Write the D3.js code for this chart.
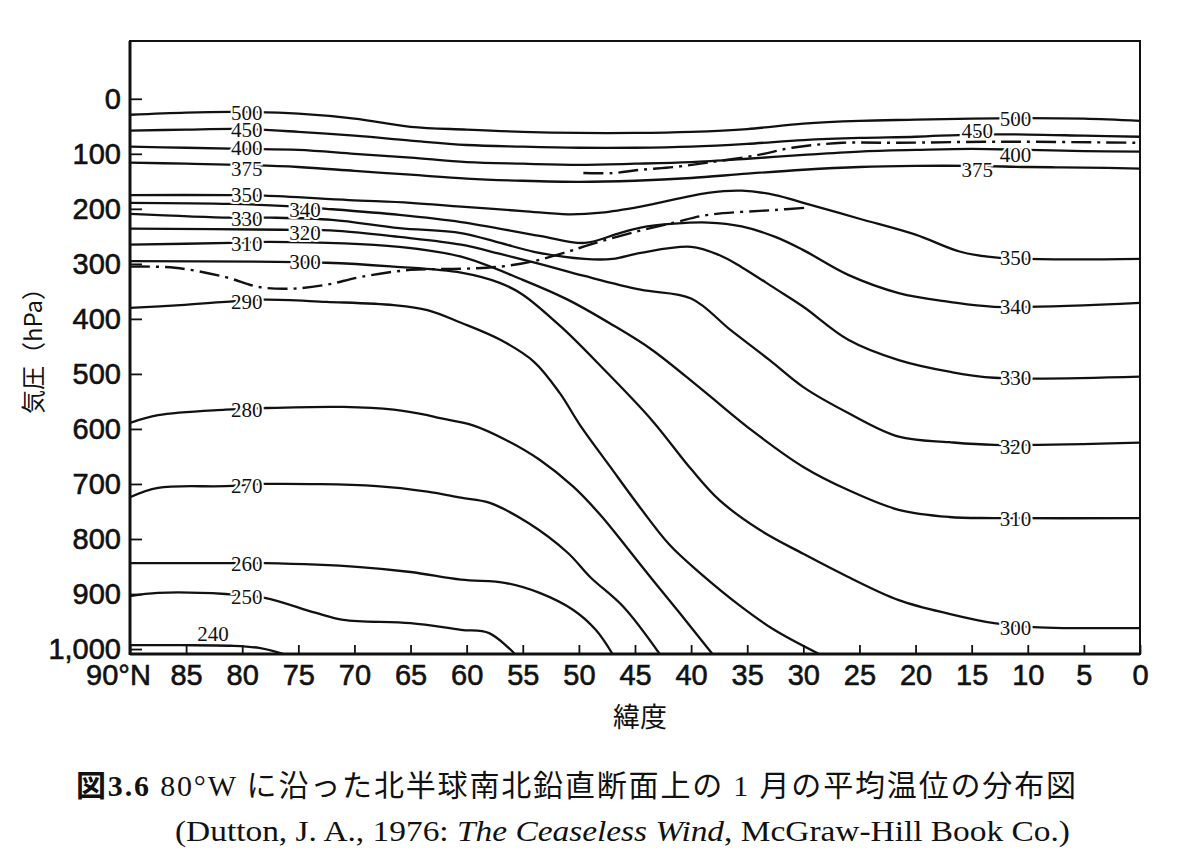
<!DOCTYPE html>
<html>
<head>
<meta charset="utf-8">
<script src="https://cdn.jsdelivr.net/npm/d3@7"></script>
<style>
body { margin: 0; background: #fff; }
</style>
</head>
<body>
<svg id="chart" width="1184" height="857"></svg>
<script>
// isentropes: [latitude, pressure hPa]
var th500 = [[90,29],[85,25],[80,24],[75,27],[70,36],[65,51],[60,56],[55,60],[50,62],[45,62],[40,60],[35,55],[30,45],[25,40],[20,38],[15,36],[10,35],[5,36],[0,40]];
var th450 = [[90,58],[85,56],[80,55],[75,60],[70,67],[65,76],[60,84],[55,87],[50,89],[45,89],[40,87],[35,82],[30,75],[25,71],[20,69],[15,65],[10,65],[5,67],[0,69]];
var th400 = [[90,87],[85,89],[80,91],[75,93],[70,100],[65,107],[60,115],[55,118],[50,120],[45,118],[40,115],[35,109],[30,102],[25,96],[20,93],[15,91],[10,93],[5,95],[0,96]];
var th375 = [[90,116],[85,118],[80,120],[75,124],[70,131],[65,138],[60,145],[55,149],[50,151],[45,149],[40,144],[35,136],[30,129],[25,124],[20,122],[15,122],[10,124],[5,125],[0,127]];
var th350 = [[90,175],[81,175],[78,176],[70.5,184],[65,189],[60.5,196],[55,204],[51,210],[48,207],[44.5,196],[38.5,171],[35.5,167],[32.5,175],[30,189],[25,218],[20,247],[16,278],[12.5,289],[0,291]];
var th340 = [[90,189],[81,191],[76,195],[72.5,200],[66,211],[60.5,224],[53.5,249],[49.5,262],[46.5,245],[44.5,234],[41.5,227],[38.5,225],[35.5,232],[32.5,251],[30,275],[26,320],[21.5,353],[17,369],[13,378],[0,371]];
var th330 = [[90,209],[81,216],[77.5,216],[72,220],[66,235],[60.5,244],[57,262],[54,278],[49.5,291],[47,291],[44.5,280],[40,269],[37.5,284],[35.5,306],[32.5,345],[30,378],[26,438],[21.5,475],[17,496],[13,507],[0,505]];
var th320 = [[90,236],[76.5,238],[71.5,240],[66,251],[60.5,265],[57,282],[53.5,300],[49.5,322],[44.5,347],[40,363],[36.5,420],[33,475],[30,524],[26,571],[21.5,614],[17,624],[13,629],[0,625]];
var th310 = [[90,265],[81,262],[77.5,260],[66,269],[60.5,287],[55,329],[51,365],[47,411],[43.5,456],[39,529],[34.5,604],[30,669],[26,711],[21.5,747],[17,760],[13,762],[0,762]];
var th300 = [[90,295],[72.5,298],[66.5,305],[60.5,316],[57,335],[55,356],[51.5,416],[48,487],[43.5,584],[40,673],[37.5,729],[34,782],[30,827],[26,869],[21.5,911],[17,936],[13,953],[9.5,960],[0,962]];
var th290 = [[90,380],[85.5,375],[81.5,369],[78,365],[72.5,369],[66.5,375],[63.5,384],[60.5,407],[57,438],[54,478],[51.7,535],[49.9,593],[47.2,669],[44.5,744],[41.9,811],[39.2,862],[35.6,922],[32.6,965],[28.6,1009]];
var th280 = [[90,589],[87.5,575],[81.5,565],[78,562],[71,560],[66.5,565],[63.5,575],[62.5,580],[59.5,593],[56.5,620],[53.5,656],[50.5,705],[48.1,756],[45.9,811],[43.4,875],[41,935],[38.1,1009]];
var th270 = [[90,724],[87.5,707],[81.5,704],[78,700],[68,704],[63.5,714],[60.5,725],[58,734],[54.5,771],[51,825],[49,869],[46,924],[42.8,1009]];
var th260 = [[90,844],[81.5,844],[78,844],[69.5,851],[65,860],[60.5,874],[56.5,880],[53.5,898],[50.5,929],[48.5,965],[47,1009]];
var th250 = [[90,904],[87.5,898],[81.5,900],[78,907],[73.5,934],[71,947],[65,953],[60.5,965],[58,971],[55.7,1009]];
var th240 = [[90,993],[85.5,993],[81,994],[78.5,998],[76.3,1009]];

// tropopause (dash-dot)
var tropLow = [[90,305],[86,307],[81.5,324],[78.5,342],[75.5,345],[72.5,338],[69.5,324],[65,311],[60.5,309],[57,305],[54,295],[51,278],[49,265],[45,242],[41.5,225],[38.5,211],[32.5,202],[29.7,198]];
var tropHigh = [[49.6,135],[47,135],[44.5,129],[41.5,124],[38.5,116],[34,102],[31,89],[26.5,80],[21.5,80],[12.5,78],[0,80]];

// contour labels: [text, lat, hPa]
var contourLabels = [
  ["500",79.6,24],["450",79.6,55],["400",79.6,89],["375",79.6,127],["350",79.6,173],
  ["330",79.6,218],["310",79.6,262],["290",79.6,369],["280",79.6,565],["270",79.6,702],
  ["260",79.6,844],["250",79.6,904],["240",82.6,971],
  ["340",74.4,202],["320",74.4,242],["300",74.4,296],
  ["500",11.1,35],["450",14.5,58],["400",11.1,102],["375",14.5,129],["350",11.1,289],
  ["340",11.1,378],["330",11.1,507],["320",11.1,631],["310",11.1,762],["300",11.1,960]
];

var latTicks = [90,85,80,75,70,65,60,55,50,45,40,35,30,25,20,15,10,5,0];
var latTickLabels = ["90°N","85","80","75","70","65","60","55","50","45","40","35","30","25","20","15","10","5","0"];
var presTicks = [0,100,200,300,400,500,600,700,800,900,1000];
var presTickLabels = ["0","100","200","300","400","500","600","700","800","900","1,000"];

var solidLines = [th500,th450,th400,th375,th350,th340,th330,th320,th310,th300,th290,th280,th270,th260,th250,th240];
var dashLines = [tropLow, tropHigh];

var svg = d3.select("#chart");
svg.append("rect").attr("width",1184).attr("height",857).attr("fill","#fff");

var plotL = 130, plotR = 1140, plotT = 41, plotB = 654;

var x = d3.scaleLinear().domain([90,0]).range([plotL,plotR]);
var y = d3.scaleLinear().domain([-105,1009]).range([plotT,plotB]);

svg.append("clipPath").attr("id","plotClip")
	.append("rect").attr("x",plotL).attr("y",plotT).attr("width",plotR-plotL).attr("height",plotB-plotT);

var line = d3.line()
	.x(function(d) { return x(d[0]); })
	.y(function(d) { return y(d[1]); })
	.curve(d3.curveCatmullRom.alpha(0.5));

var lineLayer = svg.append("g").attr("clip-path","url(#plotClip)");

lineLayer.selectAll(".iso")
	.data(solidLines)
	.enter().append("path")
	.attr("class","iso")
	.attr("d", line)
	.attr("fill","none")
	.attr("stroke","#111")
	.attr("stroke-width",2.3);

lineLayer.selectAll(".trop")
	.data(dashLines)
	.enter().append("path")
	.attr("class","trop")
	.attr("d", line)
	.attr("fill","none")
	.attr("stroke","#111")
	.attr("stroke-width",2.4)
	.attr("stroke-dasharray","20,6,3,6");

// labels knock out the lines behind them
svg.append("g").selectAll("text")
	.data(contourLabels)
	.enter().append("text")
	.attr("x", function(d) { return x(d[1]); })
	.attr("y", function(d) { return y(d[2]); })
	.attr("text-anchor","middle")
	.attr("dy","0.36em")
	.attr("font-family","'Liberation Serif', serif")
	.attr("font-size",21)
	.attr("fill","#111")
	.attr("stroke", function(d) { return d[0] == "240" ? "none" : "#fff"; })
	.attr("stroke-width",4)
	.attr("paint-order","stroke")
	.text(function(d) { return d[0]; });

// axes
var yAxis = d3.axisLeft(y)
	.tickValues(presTicks)
	.tickSize(-12)
	.tickPadding(9)
	.tickFormat(function(d,i) { return presTickLabels[i]; });

var xAxis = d3.axisBottom(x)
	.tickValues(latTicks)
	.tickSize(-9)
	.tickPadding(10)
	.tickFormat(function(d,i) { return latTickLabels[i]; });

var gy = svg.append("g").attr("transform","translate(" + plotL + ",0)").call(yAxis);
var gx = svg.append("g").attr("transform","translate(0," + plotB + ")").call(xAxis);

[gx, gy].forEach(function(g) {
	g.select(".domain").remove();
	g.selectAll(".tick line").attr("stroke","#111").attr("stroke-width",1.8);
	g.selectAll(".tick text")
		.attr("fill","#111")
		.attr("stroke","#111")
		.attr("stroke-width",0.6)
		.attr("font-family","'Liberation Sans Narrow','Liberation Sans',sans-serif")
		.attr("font-size",29);
});
gx.selectAll(".tick text").filter(function(d) { return d == 90; }).attr("dx", -12);

// frame
svg.append("rect")
	.attr("x",plotL).attr("y",plotT)
	.attr("width",plotR-plotL).attr("height",plotB-plotT)
	.attr("fill","none").attr("stroke","#111").attr("stroke-width",2);
svg.append("line").attr("x1",plotL).attr("x2",plotL).attr("y1",plotT).attr("y2",plotB+1)
	.attr("stroke","#111").attr("stroke-width",3);
svg.append("line").attr("x1",plotL).attr("x2",plotR).attr("y1",plotB).attr("y2",plotB)
	.attr("stroke","#111").attr("stroke-width",3);

// axis titles
svg.append("text")
	.attr("transform","translate(42,345) rotate(-90)")
	.attr("text-anchor","middle")
	.attr("font-family","'Noto Sans CJK JP',sans-serif")
	.attr("font-size",24)
	.attr("fill","#111")
	.text("気圧（hPa）");

svg.append("text")
	.attr("x",640).attr("y",727)
	.attr("text-anchor","middle")
	.attr("font-family","'Noto Sans CJK JP',sans-serif")
	.attr("font-size",27)
	.attr("fill","#111")
	.text("緯度");

// caption
var cap1 = svg.append("text")
	.attr("x",76).attr("y",796)
	.attr("font-size",30)
	.attr("fill","#111")
	.attr("textLength",1000)
	.attr("lengthAdjust","spacing");
cap1.append("tspan").attr("font-family","'Noto Sans CJK JP',sans-serif").attr("font-weight","bold").text("図");
cap1.append("tspan").attr("font-family","'Liberation Serif',serif").attr("font-weight","bold").text("3.6 ");
cap1.append("tspan").attr("font-family","'Liberation Serif',serif").text(" 80°W ");
cap1.append("tspan").attr("font-family","'Noto Sans CJK JP',sans-serif").text("に沿った北半球南北鉛直断面上の");
cap1.append("tspan").attr("font-family","'Liberation Serif',serif").text(" 1 ");
cap1.append("tspan").attr("font-family","'Noto Sans CJK JP',sans-serif").text("月の平均温位の分布図");

var cap2 = svg.append("text")
	.attr("x",175).attr("y",841)
	.attr("font-size",30)
	.attr("fill","#111")
	.attr("font-family","'Liberation Serif',serif")
	.attr("textLength",895)
	.attr("lengthAdjust","spacingAndGlyphs");
cap2.append("tspan").text("(Dutton, J. A., 1976: ");
cap2.append("tspan").attr("font-style","italic").text("The Ceaseless Wind");
cap2.append("tspan").text(", McGraw-Hill Book Co.)");
</script>
</body>
</html>
